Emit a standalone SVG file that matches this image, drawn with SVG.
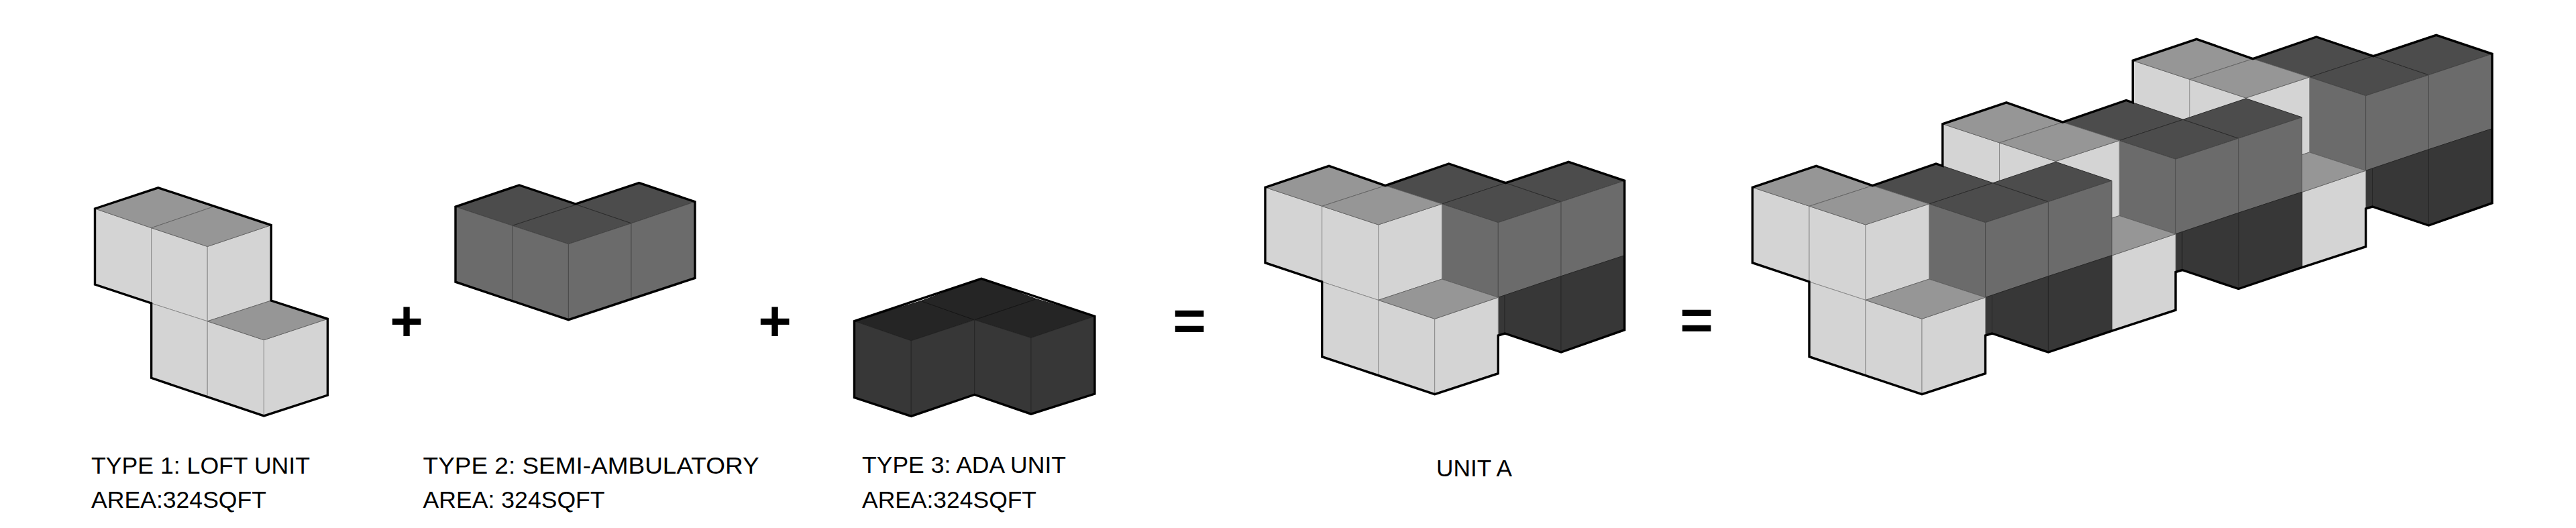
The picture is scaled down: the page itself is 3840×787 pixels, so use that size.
<svg xmlns="http://www.w3.org/2000/svg" xmlns:xlink="http://www.w3.org/1999/xlink" width="3840" height="787" viewBox="0 0 3840 787">
<style>
polygon{stroke-width:1;stroke-linejoin:round}
.lw{fill:#d4d4d4;stroke:#8a8a8a}
.lt{fill:#969696;stroke:#666}
.dt{fill:#4c4c4c;stroke:#2c2c2c}
.mw{fill:#6b6b6b;stroke:#4a4a4a}
.xw{fill:#373737;stroke:#262626}
.xt{fill:#252525;stroke:#151515}
.edge{fill:none;stroke:#000;stroke-width:3.4;stroke-linejoin:miter}
text{font-family:"Liberation Sans",Arial,sans-serif;fill:#000}
.label{font-size:34.5px}
.op{font-size:85px;font-weight:bold;text-anchor:middle}
</style>
<defs>
<g id="unit">
<polygon class="dt" points="2791.3,276.7 2886,244 2970.8,272.7 2875.7,304"/>
<polygon class="dt" points="2875.7,304 2970.8,272.7 3053.4,300.7 2959.6,331.7"/>
<polygon class="dt" points="2970.8,272.7 3064.6,241.3 3148,269.3 3053.4,300.7"/>
<polygon class="mw" points="2875.7,304 2959.6,331.7 2959.6,443.3 2875.7,416"/>
<polygon class="mw" points="2959.6,331.7 3053.4,300.7 3053.4,411.7 2959.6,443.3"/>
<polygon class="mw" points="3053.4,300.7 3148,269.3 3148,380.7 3053.4,411.7"/>
<polygon class="xw" points="2959.6,443.3 2969.5,440 2969.5,497 2959.6,500"/>
<polygon class="xw" points="2969.5,440 3053.4,411.7 3053.4,525 2969.5,497"/>
<polygon class="xw" points="3053.4,411.7 3148,380.7 3148,491.7 3053.4,525"/>
<polygon class="lw" points="2612.3,279.3 2697,307.3 2697,420 2612.3,391.7"/>
<polygon class="lw" points="2697,307.3 2781,335 2781,447.3 2697,420"/>
<polygon class="lw" points="2781,335 2875.7,304 2875.7,416 2781,447.3"/>
<polygon class="lt" points="2612.3,279.3 2707.4,247.3 2791.3,276.7 2697,307.3"/>
<polygon class="lt" points="2697,307.3 2791.3,276.7 2875.7,304 2781,335"/>
<polygon class="lw" points="2697,420 2781,447.3 2781,558.3 2697,531.7"/>
<polygon class="lw" points="2781,447.3 2865,475.3 2865,587.7 2781,558.3"/>
<polygon class="lw" points="2865,475.3 2959.6,443.3 2959.6,556.7 2865,587.7"/>
<polygon class="lt" points="2781,447.3 2875.7,416 2959.6,443.3 2865,475.3"/>
</g>
</defs>
<g id="connectors"/>
<g id="type-1">
<polygon class="lw" points="141.5,311 225.6,339.7 225.6,452 141.5,424"/>
<polygon class="lw" points="225.6,339.7 309.2,367.5 309.2,478.8 225.6,452"/>
<polygon class="lw" points="309.2,367.5 404.2,335.6 404.2,448 309.2,478.8"/>
<polygon class="lt" points="141.5,311 235.8,279.8 319.8,307.5 225.6,339.7"/>
<polygon class="lt" points="225.6,339.7 319.8,307.5 404.2,335.6 309.2,367.5"/>
<polygon class="lw" points="225.6,452 309.2,478.8 309.2,590.8 225.6,563.4"/>
<polygon class="lw" points="309.2,478.8 393.4,506.8 393.4,619.9 309.2,590.8"/>
<polygon class="lw" points="393.4,506.8 488.4,475.3 488.4,589 393.4,619.9"/>
<polygon class="lt" points="309.2,478.8 404.2,448 488.4,475.3 393.4,506.8"/>
<polygon class="edge" points="141.5,311 235.8,279.8 404.2,335.6 404.2,448 488.4,475.3 488.4,589 393.4,619.9 225.6,563.4 225.6,452 141.5,424"/>
<text class="label" x="136" y="705.5" textLength="326" lengthAdjust="spacingAndGlyphs">TYPE 1: LOFT UNIT</text>
<text class="label" x="136" y="756.8" textLength="261" lengthAdjust="spacingAndGlyphs">AREA:324SQFT</text>
</g>
<g id="plus-1"><text class="op" x="606" y="508">+</text></g>
<g id="type-2">
<polygon class="dt" points="679,308.2 774,276 859,305 763.9,336.3"/>
<polygon class="dt" points="859,305 952.7,272.6 1036,300.7 941,332.9"/>
<polygon class="dt" points="763.9,336.3 859,305 941,332.9 847.4,363.7"/>
<polygon class="mw" points="679,308.2 763.9,336.3 763.9,448 679,420.2"/>
<polygon class="mw" points="763.9,336.3 847.4,363.7 847.4,476.7 763.9,448"/>
<polygon class="mw" points="847.4,363.7 941,332.9 941,444.2 847.4,476.7"/>
<polygon class="mw" points="941,332.9 1036,300.7 1036,414.4 941,444.2"/>
<polygon class="edge" points="679,308.2 774,276 858,304 952.7,272.6 1036,300.7 1036,414.4 847.4,476.7 679,420.2"/>
<text class="label" x="630.6" y="705.5" textLength="501" lengthAdjust="spacingAndGlyphs">TYPE 2: SEMI-AMBULATORY</text>
<text class="label" x="630.6" y="756.8" textLength="271" lengthAdjust="spacingAndGlyphs">AREA: 324SQFT</text>
</g>
<g id="plus-2"><text class="op" x="1155" y="508">+</text></g>
<g id="type-3">
<polygon class="xt" points="1273.5,478.6 1373,448.6 1452.7,476.8 1358.3,507.9"/>
<polygon class="xt" points="1373,448.6 1462.9,415.3 1545.2,445.7 1452.7,476.8"/>
<polygon class="xt" points="1452.7,476.8 1545.2,445.7 1631.9,471.4 1536.9,503.5"/>
<polygon class="xw" points="1273.5,478.6 1358.3,507.9 1358.3,620.4 1273.5,592.5"/>
<polygon class="xw" points="1358.3,507.9 1452.7,476.8 1452.7,588.2 1358.3,620.4"/>
<polygon class="xw" points="1452.7,476.8 1536.9,503.5 1536.9,617.1 1452.7,588.2"/>
<polygon class="xw" points="1536.9,503.5 1631.9,471.4 1631.9,587.1 1536.9,617.1"/>
<polygon class="edge" points="1273.5,478.6 1462.9,415.3 1631.9,471.4 1631.9,587.1 1536.9,617.1 1452.7,588.2 1358.3,620.4 1273.5,592.5"/>
<text class="label" x="1285" y="705" textLength="304" lengthAdjust="spacingAndGlyphs">TYPE 3: ADA UNIT</text>
<text class="label" x="1285" y="757" textLength="260" lengthAdjust="spacingAndGlyphs">AREA:324SQFT</text>
</g>
<g id="equals-1"><text class="op" x="1773" y="507">=</text></g>
<g id="unit-a">
<use href="#unit" xlink:href="#unit" transform="translate(-726.3 0)"/>
<polygon class="edge" transform="translate(-726.3 0)" points="2612.3,279.3 2707.4,247.3 2791.3,276.7 2886,244 2970.8,272.7 3064.6,241.3 3148,269.3 3148,491.7 3053.4,525 2969.5,497 2959.6,500 2959.6,556.7 2865,587.7 2697,531.7 2697,420 2612.3,391.7"/>
<text class="label" x="2141" y="710" textLength="113" lengthAdjust="spacingAndGlyphs">UNIT A</text>
</g>
<g id="equals-2"><text class="op" x="2529" y="506">=</text></g>
<g id="building">
<use href="#unit" xlink:href="#unit" transform="translate(567 -189)"/>
<use href="#unit" xlink:href="#unit" transform="translate(283.5 -94.5)"/>
<use href="#unit" xlink:href="#unit"/>
<polygon class="edge" points="2612.3,279.3 2707.4,247.3 2791.3,276.7 2886,244 2895.8,247.3 2895.8,184.8 2990.9,152.8 3074.8,182.2 3169.5,149.5 3179.3,152.8 3179.3,90.3 3274.4,58.3 3358.3,87.7 3453,55 3537.8,83.7 3631.6,52.3 3715,80.3 3715,302.7 3620.4,336 3536.5,308 3526.6,311 3526.6,367.7 3431.5,398.7 3336.9,430.5 3253,402.5 3243.1,405.5 3243.1,462.2 3148.5,493.2 3053.4,525 2969.5,497 2959.6,500 2959.6,556.7 2865,587.7 2697,531.7 2697,420 2612.3,391.7"/>
</g>
</svg>
